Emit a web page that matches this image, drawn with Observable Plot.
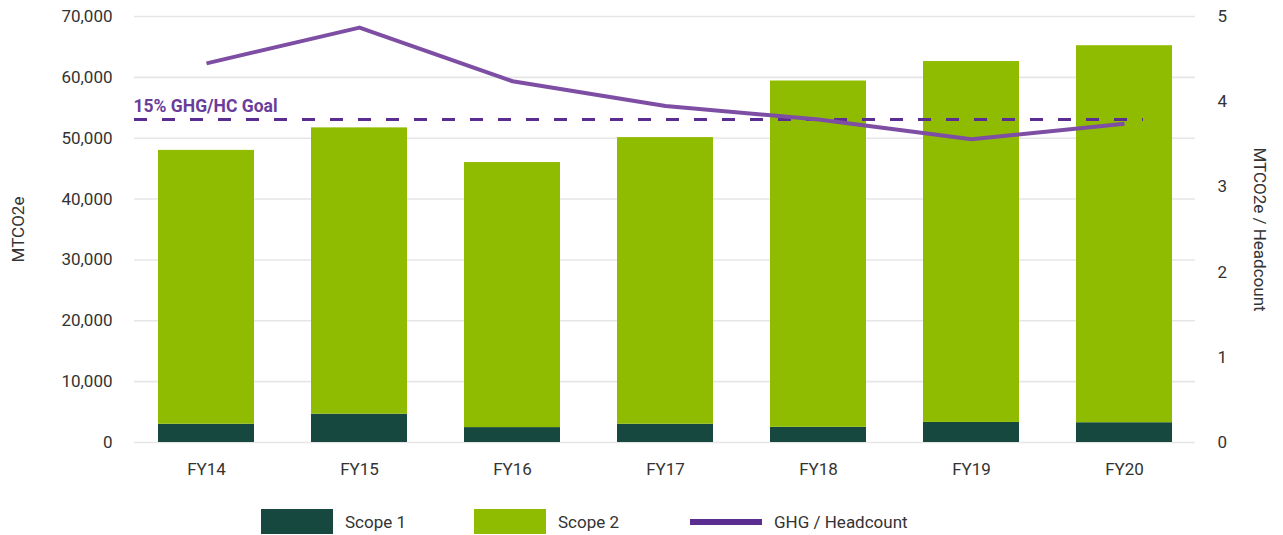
<!DOCTYPE html>
<html>
<head>
<meta charset="utf-8">
<script src="https://cdn.jsdelivr.net/npm/d3@7"></script>
<script src="https://cdn.jsdelivr.net/npm/@observablehq/plot@0.6"></script>
<style>
  body { margin: 0; background: #fff; font-family: Roboto, "DejaVu Sans", sans-serif; }
  #wrap { position: relative; width: 1283px; height: 535px; }
  .item { position: absolute; top: 509px; display: flex; align-items: center; font-size: 17px; color: #333; }
  .sw { width: 72px; height: 25px; margin-right: 12px; }
  .ln { width: 72px; height: 6px; margin: 9.5px 12px 9.5px 0; }
</style>
</head>
<body>
<div id="wrap"></div>
<script>
const years = ["FY14", "FY15", "FY16", "FY17", "FY18", "FY19", "FY20"];
const scope1 = [3000, 4650, 2450, 3000, 2500, 3300, 3250];
const scope2 = [45000, 47050, 43550, 47100, 56900, 59300, 61950];
const ghgPerHead = [4.45, 4.87, 4.24, 3.95, 3.79, 3.56, 3.74];
const goal = 3.79;
const goalLabel = "15% GHG/HC Goal";
const leftTicks = [0, 10000, 20000, 30000, 40000, 50000, 60000, 70000];
const rightTicks = [0, 1, 2, 3, 4, 5];
const seriesNames = ["Scope 1", "Scope 2", "GHG / Headcount"];
const colors = ["#164840", "#8FBC00", "#5C2D91"];
const lineColor = "#7D4EA3";

const ratio = 70000 / 5; // secondary axis mapping

const rows = [];
years.forEach((y, i) => {
  rows.push({year: y, scope: "Scope 1", value: scope1[i]});
  rows.push({year: y, scope: "Scope 2", value: scope2[i]});
});
const lineData = years.map((y, i) => ({year: y, v: ghgPerHead[i]}));

const chart = Plot.plot({
  width: 1283,
  height: 490,
  marginLeft: 134,
  marginRight: 88,
  marginTop: 16,
  marginBottom: 48,
  style: {fontFamily: "Roboto, sans-serif", fontSize: "17px", color: "#333", background: "#fff"},
  x: {type: "band", domain: years, paddingInner: 0.375, paddingOuter: 0.137, label: null},
  y: {domain: [0, 70000], label: null},
  color: {domain: seriesNames.slice(0, 2), range: colors.slice(0, 2)},
  marks: [
    Plot.gridY(leftTicks, {stroke: "#e6e6e6", strokeOpacity: 1, strokeWidth: 1.6}),
    Plot.barY(rows, {x: "year", y: "value", fill: "scope"}),
    Plot.ruleY([goal * ratio], {stroke: colors[2], strokeWidth: 3, strokeDasharray: "13,15", insetRight: 52}),
    Plot.line(lineData, {x: "year", y: d => d.v * ratio, stroke: lineColor, strokeWidth: 4, strokeLinecap: "butt"}),
    Plot.text([goalLabel], {frameAnchor: "left", y: goal * ratio, dx: -1, dy: -8, lineAnchor: "bottom", textAnchor: "start", fill: "#6A3D9A", fontWeight: "bold", fontSize: 17.5}),
    Plot.axisY(leftTicks, {tickSize: 0, tickPadding: 22, tickFormat: d3.format(","), label: null, fill: "#333"}),
    Plot.axisY(rightTicks.map(v => v * ratio), {anchor: "right", tickSize: 0, tickPadding: 22, tickFormat: d => d3.format("d")(Math.round(d / ratio)), label: null, fill: "#333"}),
    Plot.axisX({tickSize: 0, tickPadding: 20, label: null, fill: "#333"}),
    Plot.text(["MTCO2e"], {frameAnchor: "left", dx: -116, rotate: -90, textAnchor: "middle", fill: "#333", fontSize: 17}),
    Plot.text(["MTCO2e / Headcount"], {frameAnchor: "right", dx: 64, rotate: 90, textAnchor: "middle", fill: "#333", fontSize: 17})
  ]
});

const wrap = document.getElementById("wrap");
wrap.appendChild(chart);

const lefts = [261, 474, 690];
seriesNames.forEach((name, i) => {
  const it = document.createElement("div");
  it.className = "item";
  it.style.left = lefts[i] + "px";
  const sw = document.createElement("div");
  sw.className = i < 2 ? "sw" : "ln";
  sw.style.background = colors[i];
  const tx = document.createElement("span");
  tx.textContent = name;
  it.appendChild(sw);
  it.appendChild(tx);
  wrap.appendChild(it);
});
</script>
</body>
</html>
